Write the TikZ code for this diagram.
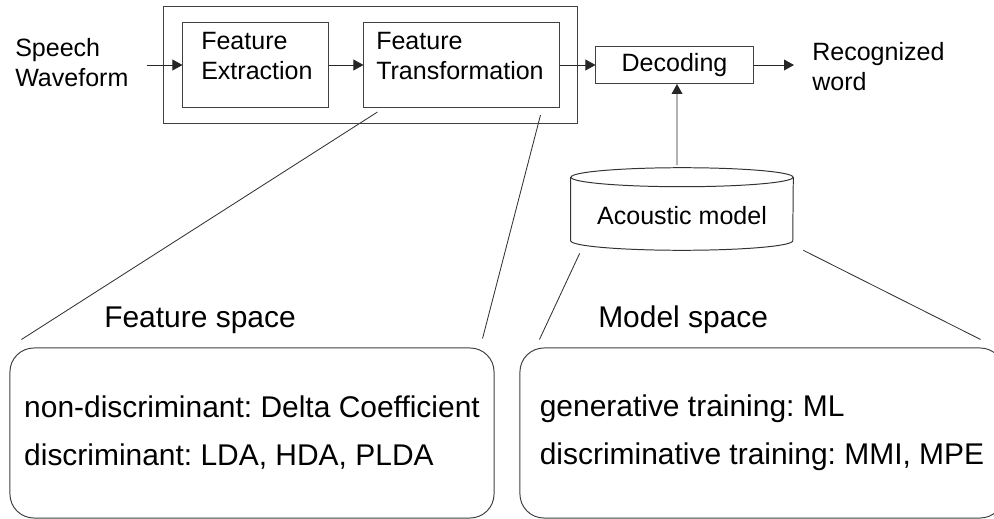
\documentclass[tikz,border=0pt]{standalone}
\usepackage{fontspec}
\setmainfont{Liberation Sans}
\usetikzlibrary{arrows.meta}
\frenchspacing

\begin{document}
\begin{tikzpicture}[x=0.025cm, y=-0.025cm,
  box/.style={draw=black!75, line width=0.7pt, inner sep=0pt},
  rim/.style={draw=black!80, line width=0.7pt},
  lbl/.style={inner sep=0pt, align=left, font=\fontsize{17.8}{21.3}\selectfont},
  big/.style={font=\fontsize{21.3}{34.1}\selectfont},
  spacebox/.style={draw=black!75, line width=0.7pt, rounded corners=0.6cm,
    minimum width=12.1cm, minimum height=4.25cm, align=left, big},
  arr/.style={draw=black!85, line width=0.7pt, -{Triangle[length=0.25cm, width=0.27cm]}},
  zoomline/.style={draw=black!80, line width=0.6pt}]
\useasboundingbox (0,0) rectangle (994,519);

% front end
\node[box, minimum width=10.325cm, minimum height=2.9cm] (outer) at (370.5,65) {};
\node[box, minimum width=3.625cm, minimum height=2.125cm] (fe) at (255.5,65) {};
\node[box, minimum width=4.875cm, minimum height=2.125cm] (ft) at (461.5,65) {};
\node[lbl, anchor=north west] (feText) at (201,32) {Feature\\Extraction};
\node[lbl, anchor=north west] (ftText) at (376,32) {Feature\\Transformation};
\node[lbl, anchor=north west] (speech) at (15,38) {Speech\\Waveform};
\node[box, lbl, minimum width=3.925cm, minimum height=0.925cm] (dec) at (674.5,65) {Decoding};
\node[lbl, anchor=north west] (rec) at (812,42) {Recognized\\word};

\draw[arr, shorten <=0.45cm] (speech.east |- fe.west) -- (fe.west);
\draw[arr] (fe.east) -- (ft.west);
\draw[arr] (ft.east) -- (dec.west);
\draw[arr, shorten >=0.45cm] (dec.east) -- (dec.east -| rec.west);

% acoustic model
\node[lbl, minimum width=5.55cm, minimum height=1.575cm, text height=0.775cm, text depth=0pt] (am) at (682,209) {Acoustic model};
\draw[rim] (am.north west) -- (am.south west)
  arc[start angle=180, end angle=360, x radius=2.775cm, y radius=0.2375cm] -- (am.north east);
\draw[rim] (am.north) ellipse[x radius=2.775cm, y radius=0.2375cm];
\draw[arr] ([shift={(-0.125cm,0.3cm)}]am.north) -- ([xshift=0.0625cm]dec.south);

% the two spaces
\node[spacebox] (fsp) at (252,433) {non-discriminant: Delta Coefficient\\discriminant: LDA, HDA, PLDA};
\node[spacebox] (msp) at (762,433) {generative training: ML\\discriminative training: MMI, MPE};
\node[big, anchor=base west, inner sep=0pt] (fspLabel) at (104,327) {Feature space};
\node[big, anchor=base west, inner sep=0pt] (mspLabel) at (598,327) {Model space};

\draw[zoomline] ([shift={(0.35cm,-0.1cm)}]ft.south west) -- ([shift={(0.3cm,0.2cm)}]fsp.north west);
\draw[zoomline] ([shift={(-0.475cm,-0.175cm)}]ft.south east) -- ([shift={(-0.3cm,0.225cm)}]fsp.north east);
\draw[zoomline] ([shift={(0.225cm,-0.3125cm)}]am.south west) -- ([shift={(0.5cm,0.2cm)}]msp.north west);
\draw[zoomline] ([shift={(0.25cm,-0.2375cm)}]am.south east) -- ([shift={(-0.6cm,0.2cm)}]msp.north east);
\end{tikzpicture}
\end{document}
